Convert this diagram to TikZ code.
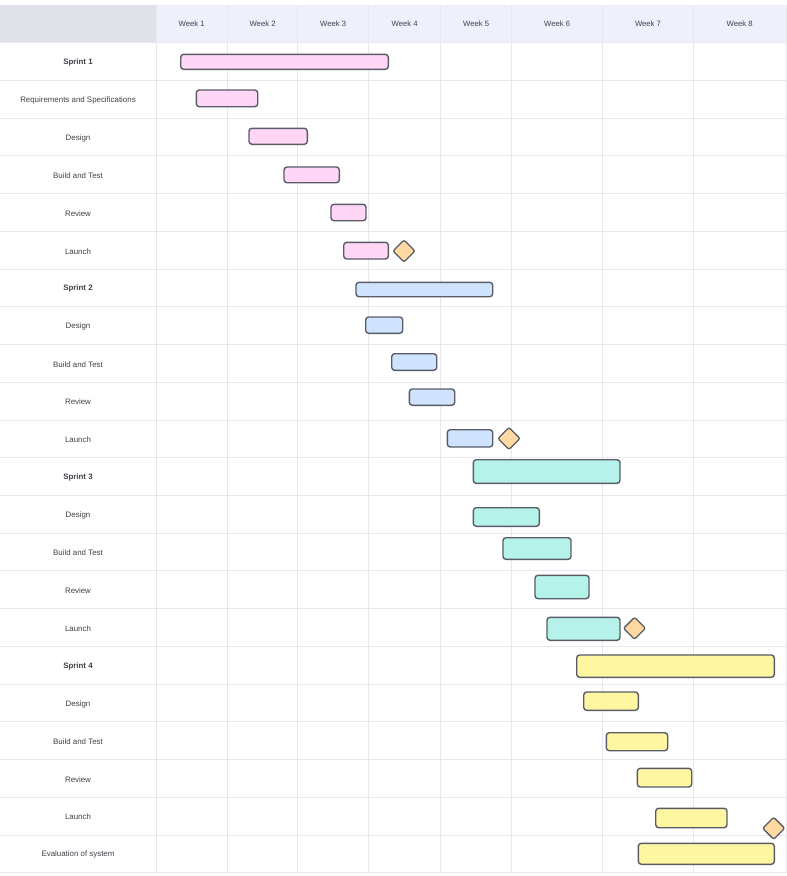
\documentclass[tikz,border=0pt]{standalone}
\usepackage{fontspec}
\setmainfont{Liberation Sans}
\usetikzlibrary{shapes.geometric}
\definecolor{gridc}{HTML}{E6E8EE}
\definecolor{hdrgray}{HTML}{DFE2E6}
\definecolor{hdrweek}{HTML}{EFF0FC}
\definecolor{txt}{HTML}{3F4249}
\definecolor{edgec}{HTML}{585C66}
\definecolor{pinkf}{HTML}{FFD6F6}
\definecolor{bluef}{HTML}{CFE3FE}
\definecolor{tealf}{HTML}{B5F3EA}
\definecolor{yellf}{HTML}{FFF6A2}
\definecolor{milef}{HTML}{FFD9A1}
\newcommand\gbar[6]{%
  \node[gbarstyle, fill=#6, minimum width={#3pt-#2pt}, minimum height={#5pt-#4pt}] (#1) at ({(#2+#3)/2},{(#4+#5)/2}) {};}
\newcommand\gmile[3]{%
  \node[milestyle] (#1) at (#2,#3) {};}
\newcommand\rowlab[3]{%
  \node[rowtext] (#1) at (78,{43.7+37.73*(#2-0.5)}) {#3};}
\begin{document}
\begin{tikzpicture}[x=1pt,y=-1pt,
  gbarstyle/.style={draw=edgec, line width=1.4pt, rounded corners=3pt, inner sep=0pt, outer sep=0pt},
  milestyle/.style={diamond, draw=edgec, fill=milef, line width=1.3pt, rounded corners=2pt, minimum size=22.5pt, inner sep=0pt},
  rowtext/.style={font=\fontsize{7.9}{9}\selectfont, text=txt, inner sep=0pt},
  hdrtext/.style={font=\fontsize{7.7}{9}\selectfont, text=txt, inner sep=0pt},
  gridline/.style={draw=gridc, line width=0.9pt}]
\useasboundingbox (0,0) rectangle (787,876);
\fill[white] (0,0) rectangle (787,876);
% header
\fill[hdrgray] (0,4.5) rectangle (156,42.7);
\fill[hdrweek] (156,4.5) rectangle (786,42.7);
% horizontal grid
\foreach \k in {0,...,22} {
  \draw[gridline] (0,{42.7+37.73*\k}) -- (786,{42.7+37.73*\k});
}
% vertical grid
\foreach \xx in {156,227.5,297.7,368.7,440.7,511.7,602.7,693.3,786} {
  \draw[gridline] (\xx,4.5) -- (\xx,872.8);
}
% week headers
\node[hdrtext] (w1) at (191.7,23.5) {Week 1};
\node[hdrtext] (w2) at (262.6,23.5) {Week 2};
\node[hdrtext] (w3) at (333.2,23.5) {Week 3};
\node[hdrtext] (w4) at (404.7,23.5) {Week 4};
\node[hdrtext] (w5) at (476.2,23.5) {Week 5};
\node[hdrtext] (w6) at (557.2,23.5) {Week 6};
\node[hdrtext] (w7) at (648,23.5) {Week 7};
\node[hdrtext] (w8) at (739.6,23.5) {Week 8};
% row labels
\rowlab{t1}{1}{\bfseries Sprint 1}
\rowlab{t2}{2}{Requirements and Specifications}
\rowlab{t3}{3}{Design}
\rowlab{t4}{4}{Build and Test}
\rowlab{t5}{5}{Review}
\rowlab{t6}{6}{Launch}
\rowlab{t7}{7}{\bfseries Sprint 2}
\rowlab{t8}{8}{Design}
\rowlab{t9}{9}{Build and Test}
\rowlab{t10}{10}{Review}
\rowlab{t11}{11}{Launch}
\rowlab{t12}{12}{\bfseries Sprint 3}
\rowlab{t13}{13}{Design}
\rowlab{t14}{14}{Build and Test}
\rowlab{t15}{15}{Review}
\rowlab{t16}{16}{Launch}
\rowlab{t17}{17}{\bfseries Sprint 4}
\rowlab{t18}{18}{Design}
\rowlab{t19}{19}{Build and Test}
\rowlab{t20}{20}{Review}
\rowlab{t21}{21}{Launch}
\rowlab{t22}{22}{Evaluation of system}
% sprint 1
\gbar{s1}{180.7}{388.3}{54.3}{69.3}{pinkf}
\gbar{r1}{196.3}{257.7}{90}{106.7}{pinkf}
\gbar{d1}{249}{307.3}{128.3}{144.3}{pinkf}
\gbar{b1}{284}{339.3}{167}{182.7}{pinkf}
\gbar{v1}{331}{366}{204.3}{220.7}{pinkf}
\gbar{l1}{343.7}{388.3}{242.3}{259}{pinkf}
\gmile{m1}{404}{251}
% sprint 2
\gbar{s2}{356}{492.7}{282.3}{296.7}{bluef}
\gbar{d2}{365.7}{402.7}{317}{333.3}{bluef}
\gbar{b2}{391.7}{436.7}{353.7}{370.3}{bluef}
\gbar{v2}{409.3}{454.7}{389}{405.3}{bluef}
\gbar{l2}{447.3}{492.7}{429.7}{447}{bluef}
\gmile{m2}{509}{438.5}
% sprint 3
\gbar{s3}{473.3}{620}{459.7}{483.3}{tealf}
\gbar{d3}{473.3}{539.3}{507.7}{526.3}{tealf}
\gbar{b3}{503}{571}{537.7}{559.3}{tealf}
\gbar{v3}{535}{589}{575.3}{598.7}{tealf}
\gbar{l3}{547}{620}{617.3}{640.3}{tealf}
\gmile{m3}{634.5}{628.3}
% sprint 4
\gbar{s4}{576.7}{774.3}{655}{677.3}{yellf}
\gbar{d4}{583.7}{638.3}{692}{710.3}{yellf}
\gbar{b4}{606.3}{667.7}{732.7}{750.7}{yellf}
\gbar{v4}{637.3}{691.7}{768.3}{787}{yellf}
\gbar{l4}{655.7}{727}{808.3}{827.7}{yellf}
\gmile{m4}{773.7}{828.3}
\gbar{ev}{638.3}{774.3}{843.3}{864.3}{yellf}
\end{tikzpicture}
\end{document}
